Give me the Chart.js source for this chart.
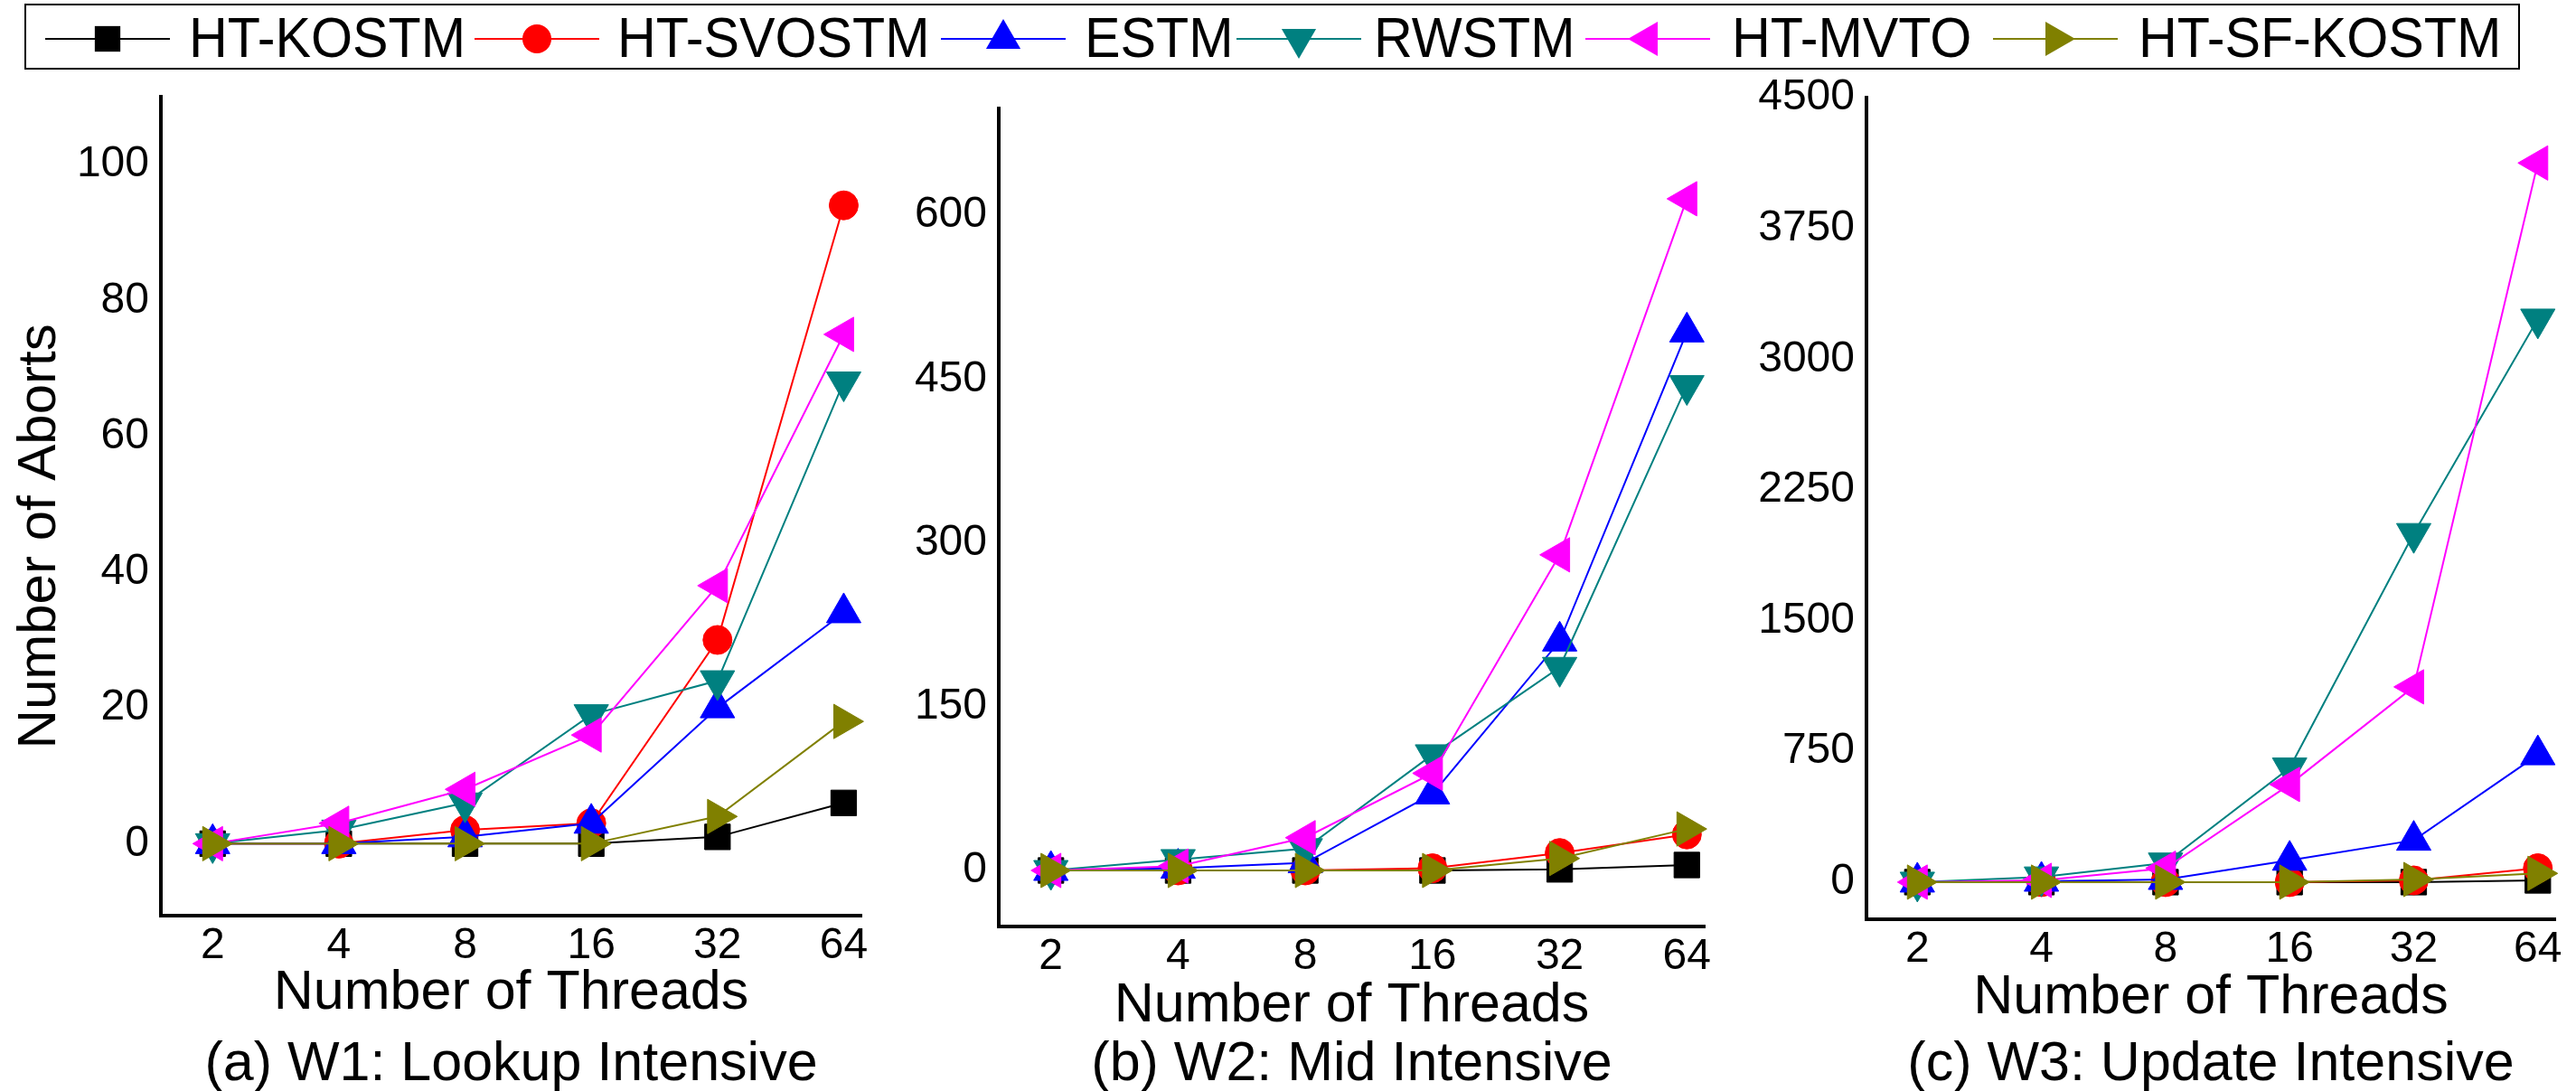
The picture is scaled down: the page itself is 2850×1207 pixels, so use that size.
<!DOCTYPE html>
<html lang="en">
<head>
  <meta charset="UTF-8" />
  <title>Number of Aborts vs Number of Threads</title>
  <script src="https://cdn.jsdelivr.net/npm/chart.js"></script>
  <style>
    body {
      margin: 0;
      width: 2850px;
      height: 1207px;
      overflow: hidden;
      position: relative;
      background: #fff;
      font-family: 'Liberation Sans', Arial, sans-serif;
    }

    .panel {
      position: absolute;
      top: 0;
      height: 1215px;
    }

    #legendBox {
      position: absolute;
      left: 27px;
      top: 4px;
      width: 2761px;
      height: 73px;
      border: 2px solid #000;
      box-sizing: border-box;
      background: #fff;
      z-index: 1;
    }

    .key {
      position: absolute;
      top: 18px;
      z-index: 2;
    }

    .label {
      position: absolute;
      top: 10px;
      z-index: 2;
      font-size: 63px;
      line-height: 1;
      white-space: nowrap;
      color: #000;
      transform: scaleX(0.94);
      transform-origin: 0 0;
    }
  </style>
</head>

<body>
  <div id="legendBox"></div>
  <div id="legend"></div>
  <div class="panel" style="left:0;width:1000px"><canvas id="w1"></canvas></div>
  <div class="panel" style="left:1000px;width:950px"><canvas id="w2"></canvas></div>
  <div class="panel" style="left:1930px;width:920px"><canvas id="w3"></canvas></div>

  <script>
    // x values
    const threads = [2, 4, 8, 16, 32, 64];
    const seriesNames = ['HT-KOSTM', 'HT-SVOSTM', 'ESTM', 'RWSTM', 'HT-MVTO', 'HT-SF-KOSTM'];

    // W1: lookup intensive
    const htKostmW1   = [0, 0, 0, 0, 1, 6];
    const htSvostmW1  = [0, 0, 2, 3, 30, 94];
    const estmW1      = [0, 0, 1, 3, 20, 34];
    const rwstmW1     = [0, 2, 6, 19, 24, 68];
    const htMvtoW1    = [0, 3, 8, 16, 38, 75];
    const htSfKostmW1 = [0, 0, 0, 0, 4, 18];

    // W2: mid intensive
    const htKostmW2   = [0, 0, 0, 0, 1, 5];
    const htSvostmW2  = [0, 0, 0, 2, 16, 33];
    const estmW2      = [0, 2, 7, 70, 210, 493];
    const rwstmW2     = [0, 10, 20, 106, 186, 444];
    const htMvtoW2    = [0, 4, 30, 89, 289, 615];
    const htSfKostmW2 = [0, 0, 0, 0, 11, 38];

    // W3: update intensive
    const htKostmW3   = [0, 0, 0, 0, 0, 10];
    const htSvostmW3  = [0, 0, 0, 0, 10, 80];
    const estmW3      = [0, 5, 15, 125, 240, 730];
    const rwstmW3     = [0, 30, 110, 655, 2000, 3230];
    const htMvtoW3    = [0, 10, 80, 560, 1120, 4125];
    const htSfKostmW3 = [0, 0, 0, 0, 15, 50];

    // y tick labels
    const ticksW1 = [0, 20, 40, 60, 80, 100];
    const ticksW2 = [0, 150, 300, 450, 600];
    const ticksW3 = [0, 750, 1500, 2250, 3000, 3750, 4500];

    // styles
    const seriesColors = ['#000000', '#ff0000', '#0000ff', '#008080', '#ff00ff', '#808000'];
    const markers = [
      { style: 'rect', rotation: 0, radius: 20 },
      { style: 'circle', rotation: 0, radius: 16 },
      { style: 'triangle', rotation: 0, radius: 22 },
      { style: 'triangle', rotation: 180, radius: 22 },
      { style: 'triangle', rotation: -90, radius: 22 },
      { style: 'triangle', rotation: 90, radius: 22 }
    ];
    const FONT = "'Liberation Sans', Arial, sans-serif";
    const CAPTION_TOP = 1141.8; // caption box top (canvas height 1215 - 73.2)

    Chart.defaults.font.family = FONT;
    Chart.defaults.color = '#000';

    // legend (html)
    const keyLefts = [50, 525, 1041, 1368, 1754, 2205];
    const labelLefts = [209, 683, 1200, 1520, 1916, 2366];

    function markerSvg(i) {
      const c = seriesColors[i], m = markers[i];
      let shape;
      if (m.style === 'rect') {
        const h = m.radius * Math.SQRT1_2;
        shape = `<rect x="${69 - h}" y="${25 - h}" width="${2 * h}" height="${2 * h}" fill="${c}"/>`;
      } else if (m.style === 'circle') {
        shape = `<circle cx="69" cy="25" r="${m.radius}" fill="${c}"/>`;
      } else {
        const pts = [];
        let rad = m.rotation * Math.PI / 180;
        for (let k = 0; k < 3; k++) {
          pts.push((69 + Math.sin(rad) * m.radius).toFixed(1) + ',' + (25 - Math.cos(rad) * m.radius).toFixed(1));
          rad += 2 * Math.PI / 3;
        }
        shape = `<polygon points="${pts.join(' ')}" fill="${c}"/>`;
      }
      return `<svg width="138" height="50"><line x1="0" y1="25" x2="138" y2="25" stroke="${c}" stroke-width="2"/>${shape}</svg>`;
    }

    const legendEl = document.getElementById('legend');
    seriesNames.forEach((name, i) => {
      legendEl.insertAdjacentHTML('beforeend',
        `<div class="key" style="left:${keyLefts[i]}px">${markerSvg(i)}</div>` +
        `<div class="label" style="left:${labelLefts[i]}px">${name}</div>`);
    });

    const panels = [
      {
        id: 'w1', values: [htKostmW1, htSvostmW1, estmW1, rwstmW1, htMvtoW1, htSfKostmW1],
        yMin: -10.6, yMax: 110, yTicks: ticksW1, caption: '(a) W1: Lookup Intensive',
        yAxisWidth: 178, padTop: 107, padRight: 47, chartBottom: 1013, xTitlePad: 6, yTitle: true
      },
      {
        id: 'w2', values: [htKostmW2, htSvostmW2, estmW2, rwstmW2, htMvtoW2, htSfKostmW2],
        yMin: -51.3, yMax: 697.7, yTicks: ticksW2, caption: '(b) W2: Mid Intensive',
        yAxisWidth: 105, padTop: 120, padRight: 64, chartBottom: 1025, xTitlePad: -8, yTitle: false
      },
      {
        id: 'w3', values: [htKostmW3, htSvostmW3, estmW3, rwstmW3, htMvtoW3, htSfKostmW3],
        yMin: -213, yMax: 4500, yTicks: ticksW3, caption: '(c) W3: Update Intensive',
        yAxisWidth: 135, padTop: 108, padRight: 15, chartBottom: 1017, xTitlePad: 1, yTitle: false
      }
    ];

    function makeChart(p) {
      return new Chart(document.getElementById(p.id), {
        type: 'line',
        data: {
          datasets: p.values.map((vals, i) => ({
            label: seriesNames[i],
            data: threads.map((t, k) => ({ x: t, y: vals[k] })),
            borderColor: seriesColors[i],
            backgroundColor: seriesColors[i],
            borderWidth: 2,
            pointStyle: markers[i].style,
            pointRotation: markers[i].rotation,
            pointRadius: markers[i].radius,
            pointBackgroundColor: seriesColors[i],
            pointBorderColor: seriesColors[i],
            pointBorderWidth: 1,
            tension: 0,
            clip: false,
            order: seriesNames.length - i // later series on top
          }))
        },
        options: {
          responsive: true,
          maintainAspectRatio: false,
          animation: false,
          events: [],
          layout: { padding: { top: p.padTop, right: p.padRight, bottom: 0, left: 0 } },
          plugins: {
            legend: { display: false },
            tooltip: { enabled: false },
            title: {
              display: true,
              position: 'bottom',
              fullSize: false,
              text: p.caption,
              color: '#000',
              font: { size: 61, weight: 'normal', lineHeight: 1.2 },
              padding: 0
            }
          },
          scales: {
            x: {
              type: 'logarithmic',
              min: 2 / Math.pow(2, 0.41),
              max: 64 * Math.pow(2, 0.14),
              afterBuildTicks: s => { s.ticks = threads.map(v => ({ value: v })); },
              afterFit: s => { s.height = CAPTION_TOP - p.chartBottom; },
              grid: { display: false, drawTicks: false },
              border: { display: true, width: 4, color: '#000' },
              ticks: {
                autoSkip: false, maxRotation: 0, minRotation: 0, padding: 5,
                font: { size: 48 }, color: '#000',
                callback: v => String(v)
              },
              title: {
                display: true,
                text: 'Number of Threads',
                color: '#000',
                font: { size: 61, lineHeight: 1.2 },
                padding: { top: 0, bottom: p.xTitlePad }
              }
            },
            y: {
              min: p.yMin,
              max: p.yMax,
              afterBuildTicks: s => { s.ticks = p.yTicks.map(v => ({ value: v })); },
              afterFit: s => { s.width = p.yAxisWidth; },
              grid: { display: false, drawTicks: false },
              border: { display: true, width: 4, color: '#000' },
              ticks: { padding: 13, font: { size: 48 }, color: '#000', callback: v => String(v) },
              title: {
                display: p.yTitle,
                text: 'Number of Aborts\u00a0\u00a0\u00a0\u00a0',
                color: '#000',
                font: { size: 60, lineHeight: 1.2 },
                padding: { top: 8, bottom: 0 }
              }
            }
          }
        }
      });
    }

    panels.forEach(makeChart);
  </script>
</body>
</html>
